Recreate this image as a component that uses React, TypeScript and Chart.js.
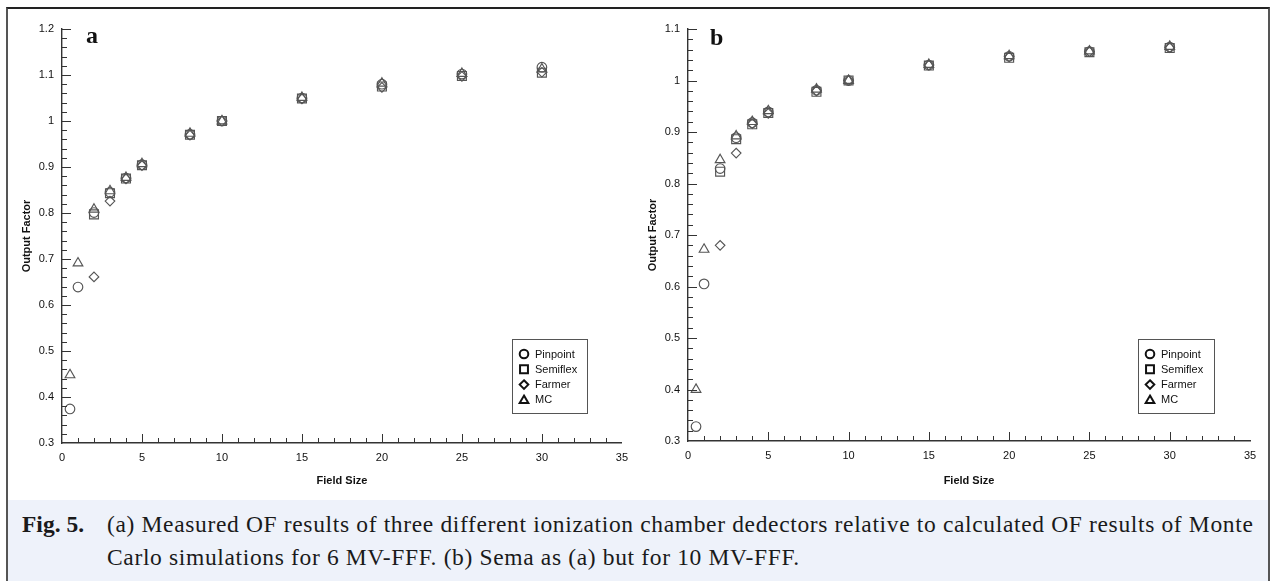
import React, { useEffect, useRef } from 'react';
import { Chart, registerables } from 'chart.js';

Chart.register(...registerables);

// ---------- data ----------
const seriesNames = ['Pinpoint', 'Semiflex', 'Farmer', 'MC'];
const fieldSizes = [0.5, 1, 2, 3, 4, 5, 8, 10, 15, 20, 25, 30];
const xTickLabels = ['0', '5', '10', '15', '20', '25', '30', '35'];

// Panel a: 6 MV-FFF
const aPinpoint = [0.374, 0.639, 0.801, 0.845, 0.876, 0.905, 0.971, 1.0, 1.05, 1.08, 1.102, 1.117];
const aSemiflex = [null, null, 0.797, 0.843, 0.875, 0.904, 0.970, 1.0, 1.049, 1.075, 1.098, 1.105];
const aFarmer = [null, null, 0.661, 0.826, 0.874, 0.903, 0.969, 1.0, 1.048, 1.073, 1.097, 1.106];
const aMC = [0.448, 0.691, 0.808, 0.848, 0.877, 0.907, 0.973, 1.0, 1.051, 1.082, 1.103, 1.113];
const aYTicks = ['0.3', '0.4', '0.5', '0.6', '0.7', '0.8', '0.9', '1', '1.1', '1.2'];

// Panel b: 10 MV-FFF
const bPinpoint = [0.328, 0.605, 0.829, 0.889, 0.918, 0.939, 0.981, 1.0, 1.030, 1.047, 1.056, 1.065];
const bSemiflex = [null, null, 0.823, 0.886, 0.915, 0.937, 0.978, 1.0, 1.029, 1.044, 1.055, 1.063];
const bFarmer = [null, null, 0.680, 0.859, 0.916, 0.936, 0.980, 1.0, 1.030, 1.046, 1.056, 1.064];
const bMC = [0.400, 0.672, 0.846, 0.892, 0.920, 0.941, 0.983, 1.0, 1.031, 1.048, 1.057, 1.066];
const bYTicks = ['0.3', '0.4', '0.5', '0.6', '0.7', '0.8', '0.9', '1', '1.1'];

const captionLabel = 'Fig. 5.';
const captionLine1 =
  '(a) Measured OF results of three different ionization chamber dedectors relative to calculated OF results of Monte';
const captionLine2 = 'Carlo simulations for 6 MV-FFF. (b) Sema as (a) but for 10 MV-FFF.';

// ---------- styling ----------
const SANS = '"Liberation Sans", Arial, Helvetica, sans-serif';
const SERIF = '"Liberation Serif", "Times New Roman", serif';
const pointStyles = ['circle', 'rect', 'rectRot', 'triangle'];
const pointRadii = [4.8, 6.3, 4.8, 5.6];
const MARK = '#555';
const AXIS = '#333';

function drawMarker(ctx: CanvasRenderingContext2D, style: string, x: number, y: number, s: number) {
  ctx.beginPath();
  if (style === 'circle') {
    ctx.arc(x, y, s, 0, Math.PI * 2);
  } else if (style === 'rect') {
    ctx.rect(x - s * 0.92, y - s * 0.92, s * 1.84, s * 1.84);
  } else if (style === 'rectRot') {
    ctx.moveTo(x, y - s);
    ctx.lineTo(x + s, y);
    ctx.lineTo(x, y + s);
    ctx.lineTo(x - s, y);
    ctx.closePath();
  } else {
    ctx.moveTo(x, y - s);
    ctx.lineTo(x + s * 1.0, y + s * 0.7);
    ctx.lineTo(x - s * 1.0, y + s * 0.7);
    ctx.closePath();
  }
  ctx.stroke();
}

type PanelCfg = {
  left: number; top: number; width: number; height: number;
  area: { l: number; r: number; t: number; b: number };
  yMax: number;
  yTicks: string[];
  series: (number | null)[][];
  letter: string;
  letterPos: { x: number; y: number };
  legend: { x: number; y: number; w: number; h: number };
  yTitleX: number;
  xTitleY: number;
};

function Panel({ cfg }: { cfg: PanelCfg }) {
  const ref = useRef<HTMLCanvasElement>(null);
  useEffect(() => {
    const canvas = ref.current!;
    const yWidth = cfg.area.l - cfg.left;
    const padRight = cfg.left + cfg.width - cfg.area.r;
    const padTop = cfg.area.t - cfg.top;
    const xHeight = cfg.top + cfg.height - cfg.area.b;
    const titleLH = 11 * 1.2;

    const datasets = seriesNames.map((name, i) => ({
      label: name,
      data: fieldSizes
        .map((x, j) => (cfg.series[i][j] == null ? null : { x, y: cfg.series[i][j] as number }))
        .filter((p) => p !== null),
      pointStyle: pointStyles[i],
      pointRadius: pointRadii[i],
      pointBorderColor: MARK,
      pointBackgroundColor: 'rgba(0,0,0,0)',
      pointBorderWidth: 1.15,
      showLine: false,
    }));

    const decor = {
      id: 'decor',
      afterDraw(chart: any) {
        const { ctx, chartArea, scales } = chart;
        const xs = scales.x;
        const ys = scales.y;
        ctx.save();
        ctx.strokeStyle = AXIS;
        ctx.lineWidth = 1;
        // x ticks (inward)
        for (let k = 1; k < 35; k++) {
          const px = Math.round(xs.getPixelForValue(k)) + 0.5;
          const len = k % 5 === 0 ? 9 : 5;
          ctx.beginPath();
          ctx.moveTo(px, chartArea.bottom);
          ctx.lineTo(px, chartArea.bottom - len);
          ctx.stroke();
        }
        // y ticks (inward) every 0.02
        const n = Math.round((cfg.yMax - 0.3) / 0.02);
        for (let k = 1; k <= n; k++) {
          const v = 0.3 + k * 0.02;
          const py = Math.round(ys.getPixelForValue(v)) + 0.5;
          const len = k % 5 === 0 ? 9 : 5;
          ctx.beginPath();
          ctx.moveTo(chartArea.left, py);
          ctx.lineTo(chartArea.left + len, py);
          ctx.stroke();
        }
        // panel letter
        ctx.fillStyle = '#111';
        ctx.font = `bold 24px ${SERIF}`;
        ctx.textAlign = 'left';
        ctx.textBaseline = 'alphabetic';
        ctx.fillText(cfg.letter, cfg.letterPos.x - cfg.left, cfg.letterPos.y - cfg.top);
        // legend
        const lx = cfg.legend.x - cfg.left;
        const ly = cfg.legend.y - cfg.top;
        ctx.fillStyle = '#fff';
        ctx.fillRect(lx, ly, cfg.legend.w, cfg.legend.h);
        ctx.strokeStyle = '#555';
        ctx.lineWidth = 1;
        ctx.strokeRect(lx + 0.5, ly + 0.5, cfg.legend.w, cfg.legend.h);
        ctx.font = `11px ${SANS}`;
        ctx.textBaseline = 'middle';
        seriesNames.forEach((name, i) => {
          const cy = ly + 15 + i * 15.3;
          ctx.strokeStyle = '#111';
          ctx.lineWidth = 2;
          drawMarker(ctx, pointStyles[i], lx + 12, cy, 4.3);
          ctx.fillStyle = '#111';
          ctx.fillText(name, lx + 23, cy + 0.5);
        });
        ctx.restore();
      },
    };

    const chart = new Chart(canvas, {
      type: 'scatter',
      data: { datasets: datasets as any },
      options: {
        responsive: false,
        animation: false,
        devicePixelRatio: 1,
        layout: { padding: { left: 0, right: padRight, top: padTop, bottom: 0 } },
        plugins: { legend: { display: false }, tooltip: { enabled: false } },
        scales: {
          x: {
            type: 'linear',
            min: 0,
            max: 35,
            afterFit: (s: any) => { s.height = xHeight; },
            grid: { display: false, drawTicks: false, tickLength: 0 },
            border: { display: true, color: AXIS, width: 1.4 },
            ticks: {
              stepSize: 5,
              padding: 8,
              color: '#111',
              maxRotation: 0,
              font: { family: SANS, size: 11 },
              callback: (_v: any, i: number) => xTickLabels[i],
            },
            title: {
              display: true,
              text: 'Field Size',
              color: '#111',
              font: { family: SANS, size: 11, weight: 'bold' },
              padding: { top: 0, bottom: cfg.top + cfg.height - cfg.xTitleY - titleLH / 2 },
            },
          },
          y: {
            type: 'linear',
            min: 0.3,
            max: cfg.yMax,
            afterFit: (s: any) => { s.width = yWidth; },
            grid: { display: false, drawTicks: false, tickLength: 0 },
            border: { display: true, color: AXIS, width: 1.4 },
            ticks: {
              stepSize: 0.1,
              padding: 8,
              color: '#111',
              font: { family: SANS, size: 11 },
              callback: (_v: any, i: number) => cfg.yTicks[i],
            },
            title: {
              display: true,
              text: 'Output Factor',
              color: '#111',
              font: { family: SANS, size: 11, weight: 'bold' },
              padding: { top: cfg.yTitleX - cfg.left - titleLH / 2, bottom: 0 },
            },
          },
        },
      } as any,
      plugins: [decor],
    });
    return () => chart.destroy();
  }, [cfg]);
  return (
    <canvas
      ref={ref}
      width={cfg.width}
      height={cfg.height}
      style={{ position: 'absolute', left: cfg.left, top: cfg.top, width: cfg.width, height: cfg.height }}
    />
  );
}

const panelA: PanelCfg = {
  left: 9, top: 10, width: 627, height: 490,
  area: { l: 62, r: 624, t: 29, b: 443 },
  yMax: 1.2,
  yTicks: aYTicks,
  series: [aPinpoint, aSemiflex, aFarmer, aMC],
  letter: 'a',
  letterPos: { x: 86, y: 43 },
  legend: { x: 512, y: 339, w: 75, h: 74 },
  yTitleX: 27,
  xTitleY: 481,
};

const panelB: PanelCfg = {
  left: 636, top: 10, width: 631, height: 490,
  area: { l: 688, r: 1250, t: 29, b: 441 },
  yMax: 1.1,
  yTicks: bYTicks,
  series: [bPinpoint, bSemiflex, bFarmer, bMC],
  letter: 'b',
  letterPos: { x: 710, y: 45 },
  legend: { x: 1138, y: 339, w: 76, h: 74 },
  yTitleX: 653,
  xTitleY: 481,
};

export default function App() {
  return (
    <div
      style={{
        position: 'absolute', left: 0, top: 0, width: 1271, height: 581,
        background: '#fff', overflow: 'hidden',
      }}
    >
      <div
        style={{
          position: 'absolute', left: 8, top: 500, width: 1260, height: 81,
          background: '#eef2fa',
        }}
      />
      <div
        style={{
          position: 'absolute', left: 6, top: 7, width: 1264, height: 590,
          boxSizing: 'border-box', borderTop: '2px solid #222',
          borderLeft: '2px solid #555', borderRight: '2px solid #555',
        }}
      />
      <Panel cfg={panelA} />
      <Panel cfg={panelB} />
      <div
        style={{
          position: 'absolute', left: 22, top: 508, fontFamily: SERIF, fontSize: 23.5,
          lineHeight: '33px', color: '#1a1a1a', fontWeight: 'bold', whiteSpace: 'nowrap',
        }}
      >
        {captionLabel}
      </div>
      <div
        style={{
          position: 'absolute', left: 107, top: 508, fontFamily: SERIF, fontSize: 23.5,
          lineHeight: '33px', letterSpacing: '0.65px', color: '#1a1a1a', whiteSpace: 'nowrap',
        }}
      >
        <div>{captionLine1}</div>
        <div>{captionLine2}</div>
      </div>
    </div>
  );
}
